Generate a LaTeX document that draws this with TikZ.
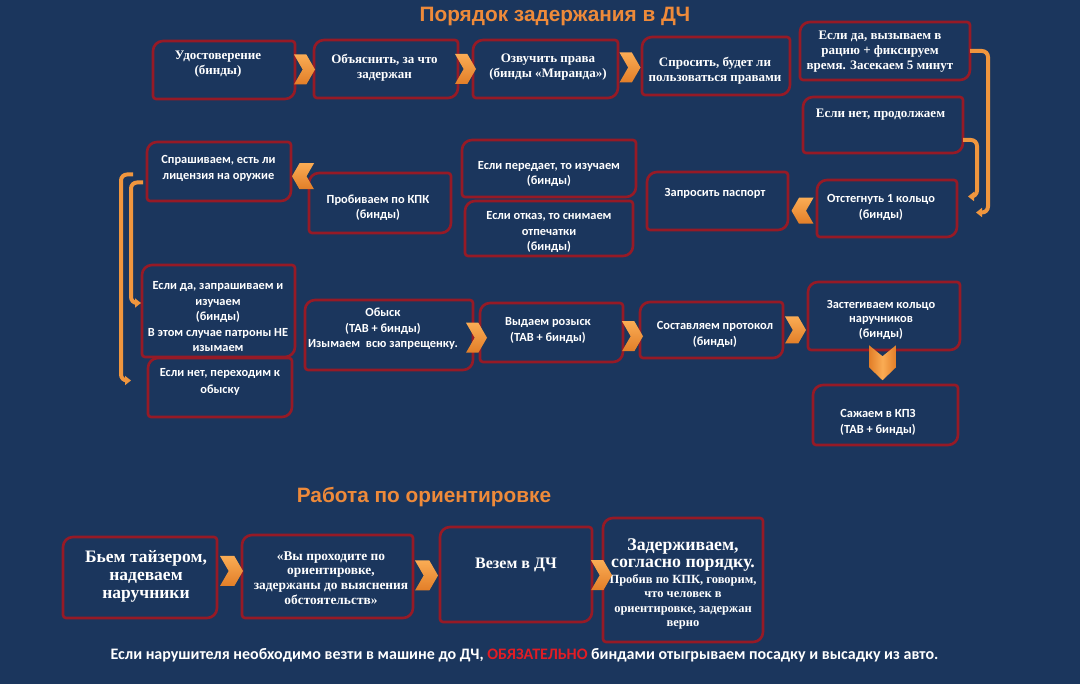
\documentclass[tikz,border=0pt]{standalone}
\usepackage{fontspec}
\setmainfont{Liberation Serif}
\newfontfamily\carl{Carlito}
\newfontfamily\lsans{Liberation Sans}
\usetikzlibrary{shapes.symbols,arrows.meta,calc}
\definecolor{bg}{RGB}{27,54,93}
\definecolor{bred}{RGB}{150,26,38}
\definecolor{chevtop}{RGB}{250,172,84}
\definecolor{chevbot}{RGB}{226,126,40}
\definecolor{orline}{RGB}{240,150,62}
\definecolor{ttl}{RGB}{238,138,58}
\definecolor{alert}{RGB}{226,28,36}
\begin{document}
\begin{tikzpicture}[x=1pt,y=-1pt,
  box/.style 2 args={minimum width=#1pt, minimum height=#2pt, inner sep=0pt, outer sep=0pt},
  bord/.style={draw=bred, line width=2.6pt},
  ser/.style={text=white, align=center, inner sep=0pt, font=\bfseries\fontsize{13}{15}\selectfont},
  san/.style={text=white, align=center, inner sep=0pt, font=\carl\bfseries\fontsize{12.4}{15.5}\selectfont},
  ttlstyle/.style={text=ttl, inner sep=0pt, font=\lsans\bfseries\fontsize{20.8}{24}\selectfont},
  chev/.style={shape=signal, inner sep=0pt, outer sep=0pt, draw=none, top color=chevtop, bottom color=chevbot, signal pointer angle=120},
  chevR/.style={chev, signal to=east, signal from=west, minimum width=21pt, minimum height=30pt},
  chevL/.style={chev, signal to=west, signal from=east, minimum width=22pt, minimum height=26pt},
  chevDfill/.style={left color=chevbot, right color=chevbot, middle color=chevtop},
  brk/.style={draw=orline, line width=4pt, rounded corners=6pt, -{Triangle[length=6pt,width=9pt]}}
]
\fill[bg] (0,0) rectangle (1080,684);
\useasboundingbox (0,0) rectangle (1080,684);

% titles
\node[ttlstyle] (title1) at (555,17) {Порядок задержания в ДЧ};
\node[ttlstyle] (title2) at (424,497) {Работа по ориентировке};

% boxes
\node[box={142}{58}] (b1) at (224,70) {};
\node[box={144}{58}] (b2) at (386,69) {};
\node[box={145}{58}] (b3) at (545.5,69) {};
\node[box={148}{58}] (b4) at (716,66) {};
\node[box={170}{58}] (b5) at (885,51) {};
\node[box={160}{56}] (b6) at (883,125) {};
\node[box={140}{57}] (b7) at (887,208.5) {};
\node[box={141}{58}] (b8) at (717.5,201) {};
\node[box={144}{59}] (q) at (219,171.5) {};
\node[box={142}{60}] (p) at (380,203) {};
\node[box={174}{57}] (e1) at (549,168.5) {};
\node[box={168}{55}] (e2) at (549,228.5) {};
\node[box={153}{92}] (y) at (218.5,311) {};
\node[box={144}{59}] (n) at (220,387.5) {};
\node[box={168}{70}] (o) at (389,335) {};
\node[box={143}{59}] (v) at (551.5,332.5) {};
\node[box={143}{56}] (s) at (711.5,330) {};
\node[box={152}{68}] (z) at (884,316) {};
\node[box={145}{60}] (k) at (885.5,415) {};
\node[box={154}{81}] (t1) at (140,577.5) {};
\node[box={171}{83}] (t2) at (327.5,576.5) {};
\node[box={152}{95}] (t3) at (516,574.5) {};
\node[box={160}{124}] (t4) at (683,580) {};

\foreach \n in {b1,b2,b3,b4,b5,b6,b7,b8,q,p,e1,e2,y,n,o,v,s,z,k,t1,t2,t3,t4}
  \draw[bord] (\n.west) [rounded corners=10pt] |- (\n.north) [rounded corners=3pt] -| (\n.east)
    [rounded corners=10pt] |- (\n.south) [rounded corners=3pt] -| (\n.west) -- cycle;

% texts
\node[ser] (b1t) at (218,64.5) {Удостоверение\\(бинды)};
\node[ser] (b2t) at (384.5,68) {Объяснить, за что\\задержан};
\node[ser] (b3t) at (548,67.5) {Озвучить права\\(бинды «Миранда»)};
\node[ser] (b4t) at (715,70.5) {Спросить, будет ли\\пользоваться правами};
\node[ser] (b5t) at (880,51.5) {Если да, вызываем в\\рацию + фиксируем\\время. Засекаем 5 минут};
\node[ser] (b6t) at (880.5,115) {Если нет, продолжаем};
\node[san] (b7t) at (881,207.5) {Отстегнуть 1 кольцо\\(бинды)};
\node[san] (b8t) at (715,193) {Запросить паспорт};
\node[san] (qt) at (218.5,168.5) {Спрашиваем, есть ли\\лицензия на оружие};
\node[san] (pt) at (378,207.6) {Пробиваем по КПК\\(бинды)};
\node[san] (e1t) at (549,174) {Если передает, то изучаем\\(бинды)};
\node[san] (e2t) at (549,232) {Если отказ, то снимаем\\отпечатки\\(бинды)};
\node[san] (yt) at (218,317) {Если да, запрашиваем и\\изучаем\\(бинды)\\В этом случае патроны НЕ\\изымаем};
\node[san, font=\carl\bfseries\fontsize{12.4}{17}\selectfont] (nt) at (220,381.5) {Если нет, переходим к\\обыску};
\node[san] (ot) at (383,329) {Обыск\\(ТАВ + бинды)\\Изымаем\ \ всю запрещенку.};
\node[san] (vt) at (548,330.5) {Выдаем розыск\\(ТАВ + бинды)};
\node[san] (st) at (715,334.5) {Составляем протокол\\(бинды)};
\node[san, font=\carl\bfseries\fontsize{12.4}{14.5}\selectfont] (zt) at (881,319.5) {Застегиваем кольцо\\наручников\\(бинды)};
\node[san] (kt) at (878,422.5) {Сажаем в КПЗ\\(ТАВ + бинды)};
\node[ser, font=\bfseries\fontsize{17.5}{18}\selectfont] (t1t) at (146,576) {Бьем тайзером,\\надеваем\\наручники};
\node[ser, font=\bfseries\fontsize{13.4}{14.7}\selectfont] (t2t) at (331,578) {«Вы проходите по\\ориентировке,\\задержаны до выяснения\\обстоятельств»};
\node[ser, font=\bfseries\fontsize{16}{18}\selectfont] (t3t) at (516,565) {Везем в ДЧ};
\node[ser, font=\bfseries\fontsize{17.8}{16.5}\selectfont] (t4a) at (683,555) {Задерживаем,\\согласно порядку.};
\node[ser, font=\bfseries\fontsize{12.5}{14.5}\selectfont] (t4b) at (683,602) {Пробив по КПК, говорим,\\что человек в\\ориентировке, задержан\\верно};

% chevrons
\node[chevR] (c12) at ($(b1.east)!0.5!(b2.west)$) {};
\node[chevR] (c23) at ($(b2.east)!0.5!(b3.west)$) {};
\node[chevR] (c34) at ($(b3.east)!0.5!(b4.west)$) {};
\node[chevL] (c78) at ([yshift=-6pt]$(b8.east)!0.5!(b7.west)$) {};
\node[chevL] (cqp) at ([xshift=3pt,yshift=11pt]$(q.east)!0.5!(p.west)$) {};
\node[chevR, minimum height=30pt] (cov) at ([yshift=-4pt]$(o.east)!0.5!(v.west)$) {};
\node[chevR, minimum height=30pt] (cvs) at ([xshift=1pt,yshift=-5pt]$(v.east)!0.5!(s.west)$) {};
\node[chevR, minimum height=27pt] (csz) at ([yshift=-7pt]$(s.east)!0.5!(z.west)$) {};
\coordinate (czk) at ([xshift=-2pt]$(z.south)!0.35!(k.north)$);
\shade[chevDfill] ([shift={(-13.5,-17)}]czk) -- ([shift={(0,-6)}]czk) -- ([shift={(13.5,-17)}]czk)
  -- ([shift={(13.5,5)}]czk) -- ([shift={(0,18)}]czk) -- ([shift={(-13.5,5)}]czk) -- cycle;
\node[chevR, minimum width=23pt] (ct12) at ([xshift=2pt,yshift=6pt]$(t1.east)!0.5!(t2.west)$) {};
\node[chevR, minimum width=23pt] (ct23) at ($(t2.east)!0.5!(t3.west)$) {};
\node[chevR] (ct34) at ([xshift=4pt,yshift=2pt]$(t3.east)!0.5!(t4.west)$) {};

% brackets
\draw[brk] (b5.east) -- ++(18,0) |- ([xshift=19pt,yshift=-4pt]b7.east);
\draw[brk] ([yshift=-15pt]b6.east) -- ++(14,0) |- ([xshift=11pt,yshift=12pt]b7.east);
\draw[brk] ([xshift=-14pt,yshift=-3pt]q.west) -- ++(-12,0) |- ([xshift=-17pt,yshift=7pt]n.west);
\draw[brk] ([xshift=-4pt,yshift=-11pt]q.west) -- ++(-12,0) |- ([xshift=-1pt,yshift=8pt]y.west);

% note
\node[text=white, inner sep=0pt, font=\carl\bfseries\fontsize{16}{18}\selectfont] (note) at (524.5,655)
  {Если нарушителя необходимо везти в машине до ДЧ, \textcolor{alert}{ОБЯЗАТЕЛЬНО} биндами отыгрываем посадку и высадку из авто.};
\end{tikzpicture}
\end{document}
